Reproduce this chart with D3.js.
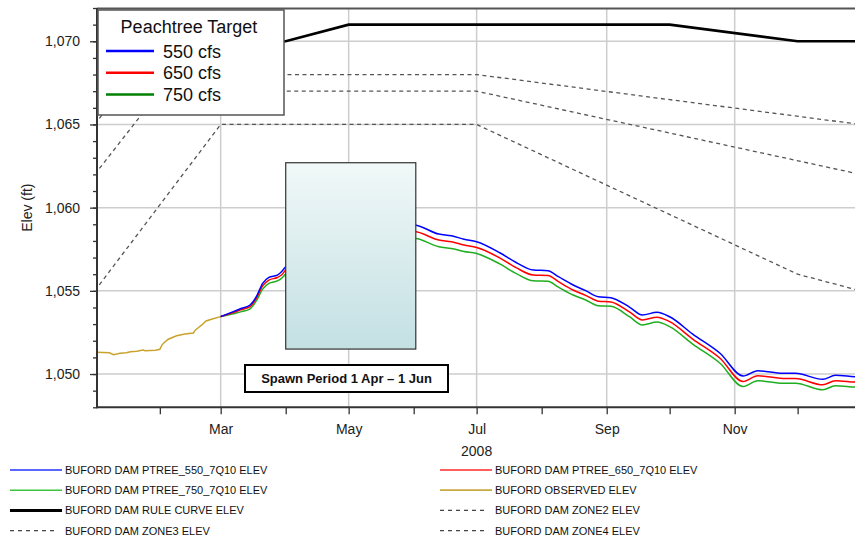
<!DOCTYPE html>
<html>
<head>
<meta charset="utf-8">
<script src="https://cdn.jsdelivr.net/npm/d3@7"></script>
<style>
  body { margin: 0; background: #fff; }
  svg { display: block; font-family: Arial, "Liberation Sans", sans-serif; }
</style>
</head>
<body>
<svg id="chart" width="855" height="538"></svg>
<script>
// Buford Dam elevation, 2008 - Peachtree target runs vs rule curve / zones

// DATA
// simulated runs (Mar 1 - Dec 31)
const simDates = ["2008-03-01", "2008-03-07", "2008-03-11", "2008-03-15", "2008-03-18", "2008-03-21",
  "2008-03-24", "2008-03-28", "2008-03-30", "2008-04-01", "2008-04-15", "2008-05-01", "2008-05-15",
  "2008-06-01", "2008-06-13", "2008-06-19", "2008-06-25", "2008-07-01", "2008-07-12", "2008-07-20",
  "2008-07-28", "2008-08-04", "2008-08-09", "2008-08-16", "2008-08-22", "2008-08-28", "2008-09-03",
  "2008-09-12", "2008-09-18", "2008-09-25", "2008-10-01", "2008-10-12", "2008-10-25", "2008-11-05",
  "2008-11-12", "2008-11-24", "2008-11-30", "2008-12-13", "2008-12-19", "2008-12-28", "2008-12-31"];
const ptree550 = [1053.45, 1053.75, 1053.95, 1054.15, 1054.65, 1055.45, 1055.81, 1055.95, 1056.15, 1056.45,
  1057.30, 1058.00, 1058.60, 1058.96, 1058.41, 1058.31, 1058.10, 1057.95, 1057.29, 1056.69, 1056.25,
  1056.21, 1055.85, 1055.35, 1055.01, 1054.65, 1054.59, 1054.01, 1053.55, 1053.71, 1053.44, 1052.40,
  1051.25, 1049.88, 1050.20, 1050.04, 1050.04, 1049.68, 1049.92, 1049.84, 1049.82];
const ptree650 = [1053.45, 1053.70, 1053.88, 1054.05, 1054.55, 1055.30, 1055.65, 1055.80, 1055.95, 1056.25,
  1057.00, 1057.70, 1058.25, 1058.56, 1058.05, 1057.95, 1057.75, 1057.60, 1056.98, 1056.38, 1055.95,
  1055.92, 1055.55, 1055.05, 1054.73, 1054.38, 1054.33, 1053.72, 1053.25, 1053.42, 1053.15, 1052.10,
  1050.95, 1049.55, 1049.90, 1049.73, 1049.73, 1049.35, 1049.60, 1049.52, 1049.50];
const ptree750 = [1053.45, 1053.62, 1053.75, 1053.92, 1054.40, 1055.10, 1055.45, 1055.60, 1055.75, 1056.00,
  1056.70, 1057.40, 1057.90, 1058.16, 1057.65, 1057.55, 1057.37, 1057.25, 1056.62, 1056.03, 1055.60,
  1055.57, 1055.22, 1054.75, 1054.45, 1054.10, 1054.07, 1053.43, 1052.95, 1053.12, 1052.85, 1051.80,
  1050.65, 1049.25, 1049.60, 1049.45, 1049.45, 1049.05, 1049.30, 1049.22, 1049.20];

// observed (Jan 1 - Mar 1)
const obsDates = ["2008-01-01", "2008-01-08", "2008-01-10", "2008-01-13", "2008-01-16", "2008-01-18",
  "2008-01-21", "2008-01-24", "2008-01-25", "2008-01-30", "2008-02-01", "2008-02-02", "2008-02-03",
  "2008-02-05", "2008-02-09", "2008-02-13", "2008-02-17", "2008-02-18", "2008-02-19", "2008-02-21",
  "2008-02-23", "2008-02-26", "2008-03-01"];
const observed = [1051.31, 1051.28, 1051.16, 1051.25, 1051.28, 1051.34, 1051.37, 1051.44, 1051.40,
  1051.43, 1051.49, 1051.74, 1051.88, 1052.09, 1052.30, 1052.40, 1052.47, 1052.65, 1052.75, 1052.95,
  1053.19, 1053.31, 1053.45];

// guide curves
const ruleDates = ["2008-01-01", "2008-04-01", "2008-05-01", "2008-10-01", "2008-12-01", "2008-12-31"];
const ruleCurve = [1070, 1070, 1071, 1071, 1070, 1070];
const zone2Dates = ["2008-01-01", "2008-01-19", "2008-07-01", "2008-12-31"];
const zone2 = [1065, 1068, 1068, 1065];
const zone3Dates = ["2008-01-01", "2008-02-01", "2008-07-01", "2008-12-31"];
const zone3 = [1062, 1067, 1067, 1062];
const zone4Dates = ["2008-01-01", "2008-03-01", "2008-07-01", "2008-12-01", "2008-12-31"];
const zone4 = [1055, 1065, 1065, 1056, 1055];

// spawn period annotation
const spawnPeriod = ["2008-04-01", "2008-06-02"];
const spawnElev = [1051.5, 1062.7];

// axis ticks
const elevTicks = [1050, 1055, 1060, 1065, 1070];
const elevMinor = [1048, 1049, 1050, 1051, 1052, 1053, 1054, 1055, 1056, 1057, 1058, 1059, 1060,
  1061, 1062, 1063, 1064, 1065, 1066, 1067, 1068, 1069, 1070, 1071, 1072];
const monthTicks = ["2008-02-01", "2008-03-01", "2008-04-01", "2008-05-01", "2008-06-01", "2008-07-01",
  "2008-08-01", "2008-09-01", "2008-10-01", "2008-11-01", "2008-12-01"];

const targetLabels = ["550 cfs", "650 cfs", "750 cfs"];
const seriesNames = ["BUFORD DAM PTREE_550_7Q10 ELEV", "BUFORD DAM PTREE_650_7Q10 ELEV",
  "BUFORD DAM PTREE_750_7Q10 ELEV", "BUFORD OBSERVED ELEV", "BUFORD DAM RULE CURVE ELEV",
  "BUFORD DAM ZONE2 ELEV", "BUFORD DAM ZONE3 ELEV", "BUFORD DAM ZONE4 ELEV"];

// CONSTANTS
const plotL = 97, plotR = 855, plotT = 8, plotB = 407.3;
const blue = "#0000ff", red = "#ff0000", green = "#1fae1f", gold = "#c9a32c";
const gridColor = "#cdcdcd", zoneColor = "#555";

const parse = d3.timeParse("%Y-%m-%d");
const zip = (dates, vals) => dates.map((d, i) => ({ date: parse(d), v: vals[i] }));

const x = d3.scaleTime()
  .domain([new Date(2008, 0, 1), new Date(2008, 11, 28, 8, 24)])
  .range([94.8, 855]);
const y = d3.scaleLinear().domain([1048, 1072]).range([plotB, plotT]);

const svg = d3.select("#chart");

// clip for plot area
const defs = svg.append("defs");
defs.append("clipPath").attr("id", "plotClip")
  .append("rect").attr("x", plotL).attr("y", plotT)
  .attr("width", plotR - plotL).attr("height", plotB - plotT);

const grad = defs.append("linearGradient")
  .attr("id", "spawnFill").attr("x1", 0).attr("y1", 0).attr("x2", 0).attr("y2", 1);
grad.append("stop").attr("offset", "0%").attr("stop-color", "#f1f8f8");
grad.append("stop").attr("offset", "100%").attr("stop-color", "#c3e0e3");

// GRID
const monthDates = monthTicks.map(parse);
svg.append("g").selectAll("line")
  .data(monthDates.filter(d => d.getMonth() % 2 === 0))
  .join("line")
  .attr("x1", d => x(d)).attr("x2", d => x(d))
  .attr("y1", plotT).attr("y2", plotB)
  .attr("stroke", gridColor).attr("stroke-width", 1.5);
svg.append("g").selectAll("line")
  .data(elevTicks)
  .join("line")
  .attr("x1", plotL).attr("x2", plotR)
  .attr("y1", d => y(d)).attr("y2", d => y(d))
  .attr("stroke", gridColor).attr("stroke-width", 1.5);

// LINES
const plot = svg.append("g").attr("clip-path", "url(#plotClip)");
const straight = d3.line().x(d => x(d.date)).y(d => y(d.v));
const smooth = d3.line().x(d => x(d.date)).y(d => y(d.v)).curve(d3.curveMonotoneX);

[[zone2Dates, zone2], [zone3Dates, zone3], [zone4Dates, zone4]].forEach(([dts, vals]) => {
  plot.append("path")
    .attr("d", straight(zip(dts, vals)))
    .attr("fill", "none")
    .attr("stroke", zoneColor)
    .attr("stroke-width", 1.3)
    .attr("stroke-dasharray", "4,3.5");
});

plot.append("path")
  .attr("d", straight(zip(ruleDates, ruleCurve)))
  .attr("fill", "none").attr("stroke", "#000").attr("stroke-width", 2.6);

plot.append("path")
  .attr("d", straight(zip(obsDates, observed)))
  .attr("fill", "none").attr("stroke", gold).attr("stroke-width", 1.5);

[[ptree750, green], [ptree650, red], [ptree550, blue]].forEach(([vals, col]) => {
  plot.append("path")
    .attr("d", smooth(zip(simDates, vals)))
    .attr("fill", "none").attr("stroke", col).attr("stroke-width", 1.5);
});

// SPAWN BOX
svg.append("rect")
  .attr("x", x(parse(spawnPeriod[0])))
  .attr("y", y(spawnElev[1]))
  .attr("width", x(parse(spawnPeriod[1])) - x(parse(spawnPeriod[0])))
  .attr("height", y(spawnElev[0]) - y(spawnElev[1]))
  .attr("fill", "url(#spawnFill)")
  .attr("stroke", "#333").attr("stroke-width", 1.2);

svg.append("rect")
  .attr("x", 245).attr("y", 365).attr("width", 203).attr("height", 27)
  .attr("fill", "#fff").attr("stroke", "#000").attr("stroke-width", 2);
svg.append("text")
  .attr("x", 346.5).attr("y", 383)
  .attr("text-anchor", "middle")
  .attr("font-size", 13).attr("font-weight", "bold")
  .attr("fill", "#111")
  .text("Spawn Period 1 Apr \u2013 1 Jun");

// AXES
const yAxis = svg.append("g").attr("transform", `translate(${plotL},0)`)
  .call(d3.axisLeft(y).tickValues(elevTicks).tickSize(7).tickPadding(10).tickFormat(d3.format(",")));
svg.append("g").attr("transform", `translate(${plotL},0)`)
  .call(d3.axisLeft(y).tickValues(elevMinor).tickSize(4).tickFormat(""))
  .call(g => g.select(".domain").remove())
  .call(g => g.selectAll(".tick line").attr("stroke", "#333").attr("stroke-width", 1.3));

const xAxis = svg.append("g").attr("transform", `translate(0,${plotB})`)
  .call(d3.axisBottom(x).tickValues(monthDates).tickSize(7).tickPadding(10)
    .tickFormat(d => d.getMonth() % 2 === 0 ? d3.timeFormat("%b")(d) : ""));

[yAxis, xAxis].forEach(g => {
  g.select(".domain").remove();
  g.selectAll(".tick line").attr("stroke", "#333").attr("stroke-width", 1.3);
  g.selectAll("text").attr("font-size", 14).attr("font-family", "Arial, 'Liberation Sans', sans-serif").attr("fill", "#222");
});

// frame
svg.append("line").attr("x1", plotL).attr("x2", plotR).attr("y1", plotT + 0.5).attr("y2", plotT + 0.5)
  .attr("stroke", "#555").attr("stroke-width", 2);
svg.append("line").attr("x1", plotL).attr("x2", plotL).attr("y1", plotT).attr("y2", plotB + 1)
  .attr("stroke", "#333").attr("stroke-width", 2);
svg.append("line").attr("x1", plotL).attr("x2", plotR).attr("y1", plotB).attr("y2", plotB)
  .attr("stroke", "#333").attr("stroke-width", 2);

svg.append("text")
  .attr("x", x(parse("2008-07-01"))).attr("y", 456)
  .attr("text-anchor", "middle").attr("font-size", 14).attr("fill", "#222")
  .text("2008");

svg.append("text")
  .attr("transform", `translate(32,${(plotT + plotB) / 2}) rotate(-90)`)
  .attr("text-anchor", "middle").attr("font-size", 14).attr("fill", "#222")
  .text("Elev (ft)");

// TOP-LEFT LEGEND
const lg = svg.append("g");
lg.append("rect").attr("x", 98).attr("y", 10).attr("width", 186).attr("height", 105)
  .attr("fill", "#fff").attr("stroke", "#555").attr("stroke-width", 1.5);
lg.append("text").attr("x", 189).attr("y", 33).attr("text-anchor", "middle")
  .attr("font-size", 18).attr("fill", "#111").text("Peachtree Target");
const legendCols = ["#0000ff", "#ff0000", "#008000"];
targetLabels.forEach((t, i) => {
  const yy = 51 + i * 21.8;
  lg.append("line").attr("x1", 106).attr("x2", 154).attr("y1", yy).attr("y2", yy)
    .attr("stroke", legendCols[i]).attr("stroke-width", 2.5);
  lg.append("text").attr("x", 163).attr("y", yy + 6.5)
    .attr("font-size", 18).attr("fill", "#111").text(t);
});

// BOTTOM LEGEND
const legendStyles = [
  { color: "#2233ff", w: 1.5 }, { color: "#ff2a2a", w: 1.5 },
  { color: "#3fc43f", w: 1.5 }, { color: "#c9a93f", w: 1.8 },
  { color: "#000", w: 3 }, { color: "#444", w: 1.2, dash: "4,4" },
  { color: "#444", w: 1.2, dash: "4,4" }, { color: "#444", w: 1.2, dash: "4,4" }
];
seriesNames.forEach((name, i) => {
  const col = i % 2, row = Math.floor(i / 2);
  const x0 = col === 0 ? 10 : 440;
  const yy = 470 + row * 20.2;
  const st = legendStyles[i];
  svg.append("line").attr("x1", x0).attr("x2", st.dash ? x0 + 47 : x0 + 52)
    .attr("y1", yy).attr("y2", yy)
    .attr("stroke", st.color).attr("stroke-width", st.w)
    .attr("stroke-dasharray", st.dash || null);
  svg.append("text").attr("x", x0 + 55).attr("y", yy + 4)
    .attr("font-size", 11).attr("fill", "#111").text(name);
});
</script>
</body>
</html>
